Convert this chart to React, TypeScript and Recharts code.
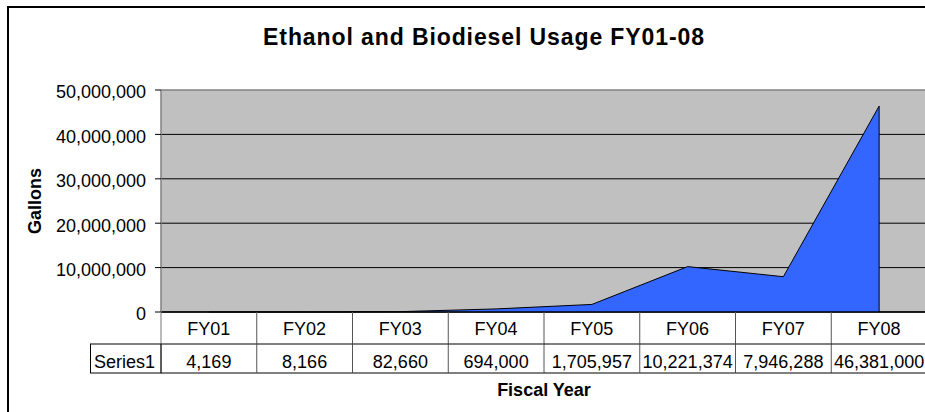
import React from 'react';
import { AreaChart, Area, XAxis, YAxis, CartesianGrid, Label, ReferenceLine } from 'recharts';

const categories = ['FY01', 'FY02', 'FY03', 'FY04', 'FY05', 'FY06', 'FY07', 'FY08'];
const gallons = [4169, 8166, 82660, 694000, 1705957, 10221374, 7946288, 46381000];
const yTicks = [0, 10000000, 20000000, 30000000, 40000000, 50000000];
const seriesName = 'Series1';
const title = 'Ethanol and Biodiesel Usage FY01-08';
const xTitle = 'Fiscal Year';
const yTitle = 'Gallons';

const data = categories.map((c, i) => ({ cat: c, value: gallons[i] }));

const FONT = '"Liberation Sans", Arial, sans-serif';
const CHART_W = 960;
const CHART_H = 412;
const PLOT_LEFT = 161;
const PLOT_RIGHT = 927;
const PLOT_BOTTOM = 312;
const BAND = (PLOT_RIGHT - PLOT_LEFT) / categories.length;
const ROW1 = 32;
const ROW2 = 29;

const fmt = (v: number) => v.toLocaleString('en-US');

const TableTick = (props: any) => {
  const { x, payload, index } = props;
  const left = x - BAND / 2;
  const right = x + BAND / 2;
  const top = PLOT_BOTTOM;
  const mid = top + ROW1;
  const bot = mid + ROW2;
  const v = gallons[index];
  return (
    <g>
      <line x1={left} y1={mid} x2={right} y2={mid} stroke="#000" strokeWidth={1} />
      <line x1={left} y1={bot} x2={right} y2={bot} stroke="#000" strokeWidth={1} />
      <line x1={right} y1={top} x2={right} y2={bot} stroke="#555" strokeWidth={1} />
      {index === 0 && (
        <g>
          <line x1={left} y1={top} x2={left} y2={bot} stroke="#777" strokeWidth={1} />
          <rect x={90.5} y={mid} width={left - 90.5} height={ROW2} fill="none" stroke="#000" strokeWidth={1} />
          <text x={94} y={mid + 24} fontSize={18} fontFamily={FONT} fill="#000">{seriesName}</text>
        </g>
      )}
      <text x={x} y={top + 23} textAnchor="middle" fontSize={18} fontFamily={FONT} fill="#000">
        {payload.value}
      </text>
      <text x={x} y={mid + 24} textAnchor="middle" fontSize={18} fontFamily={FONT} fill="#000">
        {fmt(v)}
      </text>
    </g>
  );
};

const GallonsLabel = (props: any) => {
  const vb = props.viewBox || { x: 0, y: 90, width: 161, height: 222 };
  const cy = vb.y + vb.height / 2;
  const cx = 41;
  return (
    <text
      x={cx}
      y={cy}
      transform={`rotate(-90, ${cx}, ${cy})`}
      textAnchor="middle"
      fontSize={18}
      fontWeight="bold"
      fontFamily={FONT}
      fill="#000"
    >
      {yTitle}
    </text>
  );
};

export default function App() {
  return (
    <div
      style={{
        position: 'absolute',
        left: 0,
        top: 0,
        width: 925,
        height: 412,
        overflow: 'hidden',
        background: '#fff',
        fontFamily: FONT,
      }}
    >
      <div style={{ position: 'absolute', left: 7, top: 6, width: 1000, height: 2, background: '#000' }} />
      <div style={{ position: 'absolute', left: 7, top: 6, width: 2, height: 1000, background: '#000' }} />
      <div
        style={{
          position: 'absolute',
          left: 0,
          top: 26,
          width: 968,
          textAlign: 'center',
          fontSize: 23,
          lineHeight: '23px',
          fontWeight: 'bold',
          letterSpacing: 0.9,
          color: '#000',
          whiteSpace: 'nowrap',
        }}
      >
        {title}
      </div>
      <div style={{ position: 'absolute', left: 0, top: 0 }}>
        <AreaChart
          width={CHART_W}
          height={CHART_H}
          data={data}
          margin={{ top: 90, right: CHART_W - PLOT_RIGHT, bottom: 0, left: 0 }}
        >
          <CartesianGrid
            vertical={false}
            horizontal={true}
            horizontalValues={yTicks.slice(0, -1)}
            stroke="#000"
            fill="#C0C0C0"
            fillOpacity={1}
          />
          <XAxis
            dataKey="cat"
            interval={0}
            height={CHART_H - PLOT_BOTTOM}
            padding={{ left: BAND / 2, right: BAND / 2 }}
            tickLine={false}
            axisLine={{ stroke: '#000', strokeWidth: 1.5 }}
            tick={<TableTick />}
          >
            <Label
              value={xTitle}
              position="insideBottom"
              offset={16}
              style={{ fontSize: 18, fontWeight: 'bold', fill: '#000', fontFamily: FONT }}
            />
          </XAxis>
          <YAxis
            width={PLOT_LEFT}
            domain={[0, 50000000]}
            ticks={yTicks}
            interval={0}
            tickFormatter={fmt}
            tickSize={6}
            tickMargin={9}
            axisLine={{ stroke: '#808080', strokeWidth: 1.5 }}
            tickLine={{ stroke: '#000' }}
            tick={{ fontSize: 18, fill: '#000', fontFamily: FONT, dy: 2 }}
          >
            <Label content={<GallonsLabel />} />
          </YAxis>
          <ReferenceLine y={yTicks[yTicks.length - 1]} stroke="#808080" strokeWidth={1.5} />
          <Area
            type="linear"
            dataKey="value"
            stroke="#000"
            strokeWidth={1}
            fill="#3366FF"
            fillOpacity={1}
            isAnimationActive={false}
            dot={false}
            activeDot={false}
          />
          <ReferenceLine
            segment={[
              { x: categories[categories.length - 1], y: 0 },
              { x: categories[categories.length - 1], y: gallons[gallons.length - 1] },
            ]}
            stroke="#000"
            strokeWidth={1}
          />
        </AreaChart>
      </div>
    </div>
  );
}
